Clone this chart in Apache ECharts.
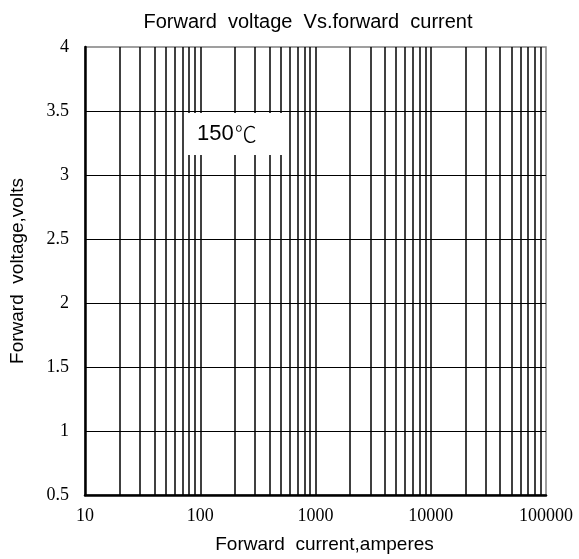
<!DOCTYPE html>
<html>
<head>
<meta charset="utf-8">
<script src="https://cdn.jsdelivr.net/npm/echarts@6/dist/echarts.min.js"></script>
<style>html,body{margin:0;padding:0;background:#fff}#c{width:579px;height:559px}</style>
</head>
<body>
<div id="c"></div>
<script>
const titleText = 'Forward  voltage  Vs.forward  current';
const xAxisName = 'Forward  current,amperes';
const yAxisName = 'Forward  voltage,volts';
const xRange = [10, 100000];
const yRange = [0.5, 4];
const yStep = 0.5;
const minorGridX = [20,30,40,50,60,70,80,90,200,300,400,500,600,700,800,900,2000,3000,4000,5000,6000,7000,8000,9000,20000,30000,40000,50000,60000,70000,80000,90000];
const annotationValue = '150';
const annotationUnit = '℃';

const chart = echarts.init(document.getElementById('c'));
chart.setOption({
  backgroundColor: '#fff',
  animation: false,
  title: {
    text: titleText, left: 303, textAlign: 'center', top: 7,
    textStyle: {fontFamily: 'Liberation Sans', fontSize: 20, fontWeight: 'normal', color: '#000'}
  },
  grid: {left: 85, right: 33, top: 47, bottom: 64, show: true, borderColor: '#808080', borderWidth: 1.5, backgroundColor: 'transparent'},
  xAxis: {
    type: 'log', logBase: 10, min: xRange[0], max: xRange[1],
    name: xAxisName, nameLocation: 'middle', nameGap: 40,
    nameTextStyle: {fontFamily: 'Liberation Sans', fontSize: 19, color: '#000', padding: [0, 0, 0, 18]},
    axisLine: {lineStyle: {color: '#000', width: 2.5}},
    axisTick: {show: false},
    axisLabel: {fontFamily: 'Liberation Serif', fontSize: 18, color: '#000', margin: 12, formatter: v => String(v)},
    splitLine: {show: true, showMinLine: false, showMaxLine: false, lineStyle: {color: '#000', width: 1.5}}
  },
  yAxis: {
    type: 'value', min: yRange[0], max: yRange[1], interval: yStep,
    name: yAxisName, nameLocation: 'middle', nameGap: 58, nameRotate: 90,
    nameTextStyle: {fontFamily: 'Liberation Sans', fontSize: 19, color: '#000'},
    axisLine: {show: true, lineStyle: {color: '#000', width: 2.5}},
    axisTick: {show: false},
    axisLabel: {fontFamily: 'Liberation Serif', fontSize: 18, color: '#000', margin: 16},
    splitLine: {show: true, showMinLine: false, showMaxLine: false, lineStyle: {color: '#000', width: 1.2}}
  },
  series: [{
    type: 'line', data: [], silent: true,
    markLine: {
      silent: true, symbol: ['none','none'], animation: false,
      label: {show: false},
      lineStyle: {color: '#000', width: 1.5, type: 'solid'},
      data: minorGridX.map(v => ({xAxis: v}))
    }
  }],
  graphic: [{
    type: 'rect', z: 100,
    shape: {x: 188, y: 113, width: 97, height: 42},
    style: {fill: '#fff'}
  }, {
    type: 'text', z: 101, left: 197, top: 123,
    style: {
      text: '{v|' + annotationValue + '}{u|' + annotationUnit + '}',
      rich: {
        v: {fontFamily: 'Liberation Sans', fontSize: 22, fill: '#000', color: '#000'},
        u: {fontFamily: 'Noto Sans CJK SC', fontWeight: 300, fontSize: 22, fill: '#000', color: '#000', padding: [0, 0, 0, 1]}
      }
    }
  }]
});
</script>
</body>
</html>
